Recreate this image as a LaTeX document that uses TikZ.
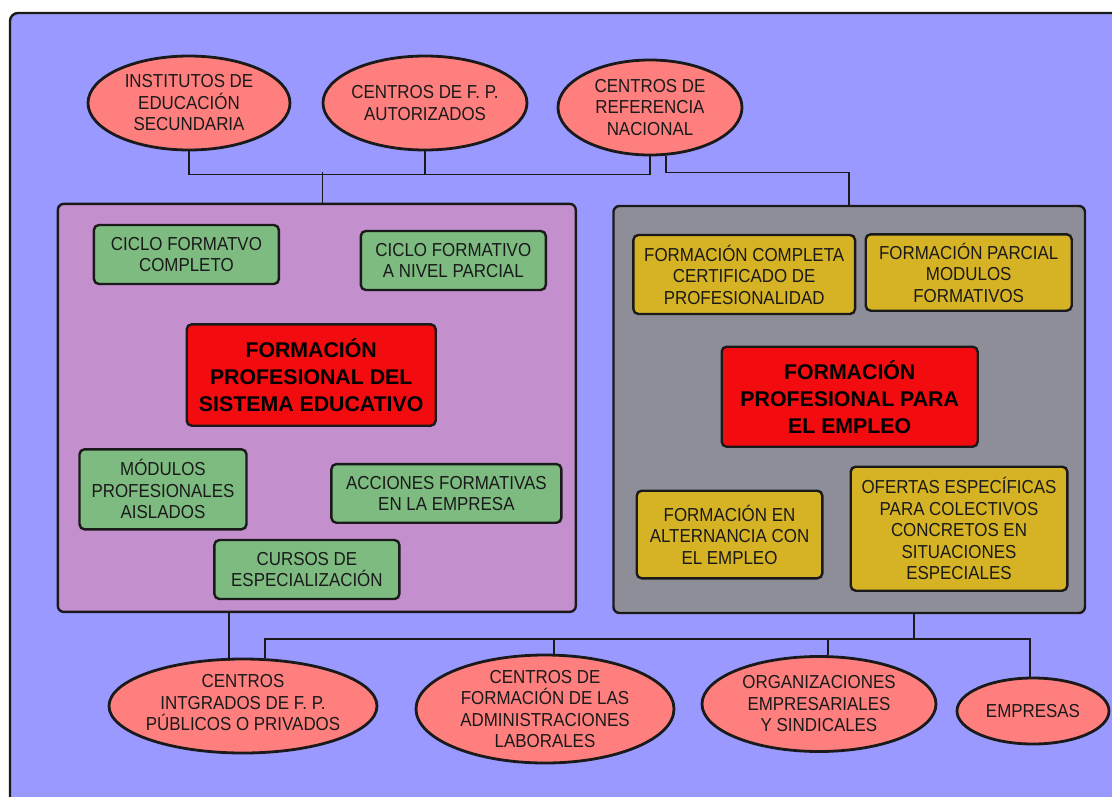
\documentclass[tikz,border=0pt]{standalone}
\usepackage{fontspec}
\setmainfont{Liberation Sans}[FakeStretch=0.9]
\newfontfamily\bfam{Liberation Sans}
\usetikzlibrary{shapes.geometric}
\definecolor{bgblue}{HTML}{9999FF}
\definecolor{purp}{HTML}{C38FCC}
\definecolor{greyb}{HTML}{8E8E98}
\definecolor{greenb}{HTML}{7DBB80}
\definecolor{yell}{HTML}{D6B324}
\definecolor{redb}{HTML}{F20C10}
\definecolor{pinke}{HTML}{FF7F7F}
\definecolor{ink}{HTML}{1A1A1A}
\begin{document}
\begin{tikzpicture}[x=1pt,y=-1pt,
  panel/.style={draw=ink, line width=2.4pt, rounded corners=6pt, inner sep=0pt},
  box/.style={draw=ink, line width=2.4pt, rounded corners=5pt, inner sep=0pt},
  gbox/.style={box, fill=greenb},
  ybox/.style={box, fill=yell},
  rbox/.style={box, fill=redb},
  oval/.style={ellipse, draw=ink, line width=2.8pt, fill=pinke, inner sep=0pt},
  txt/.style={align=center, text=ink, font=\fontsize{18.8}{21.5}\selectfont, inner sep=0pt},
  btxt/.style={align=center, text=black, font=\bfam\fontsize{21.3}{27}\selectfont\bfseries, inner sep=0pt},
  conn/.style={draw=ink, line width=1.8pt}]
\useasboundingbox (0,0) rectangle (1112,796);
\clip (0,0) rectangle (1112,796);
\draw[draw=ink, line width=2.4pt, fill=bgblue, rounded corners=8pt] (10,13) rectangle (1140,820);

% panels
\node[panel, fill=purp, minimum width=518pt, minimum height=408pt] (PL) at (316.8,407.9) {};
\node[panel, fill=greyb, minimum width=471.5pt, minimum height=407pt] (GR) at (849.2,409.5) {};

% top ellipses
\node[oval, minimum width=202pt, minimum height=94pt] (E1) at (189,103) {};
\node[oval, minimum width=204pt, minimum height=94pt] (E2) at (425,103) {};
\node[oval, minimum width=184pt, minimum height=95pt] (E3) at (650,107.5) {};
\node[txt] (E1t) at (E1) {INSTITUTOS DE\\EDUCACIÓN\\SECUNDARIA};
\node[txt] (E2t) at (E2) {CENTROS DE F. P.\\AUTORIZADOS};
\node[txt] (E3t) at (E3) {CENTROS DE\\REFERENCIA\\NACIONAL};

% bottom ellipses
\node[oval, minimum width=268pt, minimum height=94pt] (E4) at (243,706) {};
\node[oval, minimum width=258pt, minimum height=108pt] (E5) at (545,709) {};
\node[oval, minimum width=234pt, minimum height=95pt] (E6) at (819,704) {};
\node[oval, minimum width=152pt, minimum height=66pt] (E7) at (1033,711) {};
\node[txt] (E4t) at ([yshift=3pt]E4) {CENTROS\\INTGRADOS DE F. P.\\PÚBLICOS O PRIVADOS};
\node[txt] (E5t) at (E5) {CENTROS DE\\FORMACIÓN DE LAS\\ADMINISTRACIONES\\LABORALES};
\node[txt] (E6t) at (E6) {ORGANIZACIONES\\EMPRESARIALES\\Y SINDICALES};
\node[txt] (E7t) at (E7) {EMPRESAS};

% green boxes
\node[gbox, minimum width=185pt, minimum height=59pt] (g1) at (186.4,254.5) {};
\node[gbox, minimum width=185pt, minimum height=59pt] (g2) at (453.3,260.5) {};
\node[gbox, minimum width=167pt, minimum height=80pt] (g3) at (163,489.3) {};
\node[gbox, minimum width=230pt, minimum height=58.7pt] (g4) at (446.4,493.4) {};
\node[gbox, minimum width=185pt, minimum height=59pt] (g5) at (306.9,569.5) {};
\node[txt] (g1t) at (g1) {CICLO FORMATVO\\COMPLETO};
\node[txt] (g2t) at (g2) {CICLO FORMATIVO\\A NIVEL PARCIAL};
\node[txt] (g3t) at (g3) {MÓDULOS\\PROFESIONALES\\AISLADOS};
\node[txt] (g4t) at (g4) {ACCIONES FORMATIVAS\\EN LA EMPRESA};
\node[txt] (g5t) at (g5) {CURSOS DE\\ESPECIALIZACIÓN};

% red boxes
\node[rbox, minimum width=249pt, minimum height=101.4pt] (rL) at (311.2,375) {};
\node[rbox, minimum width=256pt, minimum height=100pt] (rR) at (849.7,396.7) {};
\node[btxt] (rLt) at (rL) {FORMACIÓN\\PROFESIONAL DEL\\SISTEMA EDUCATIVO};
\node[btxt] (rRt) at (rR) {FORMACIÓN\\PROFESIONAL PARA\\EL EMPLEO};

% yellow boxes
\node[ybox, minimum width=221.7pt, minimum height=79pt] (y1) at (744.2,274.5) {};
\node[ybox, minimum width=206pt, minimum height=76.4pt] (y2) at (968.7,272.5) {};
\node[ybox, minimum width=185.6pt, minimum height=87.6pt] (y3) at (729.5,534.5) {};
\node[ybox, minimum width=216.6pt, minimum height=124pt] (y4) at (959,528.7) {};
\node[txt] (y1t) at (y1) {FORMACIÓN COMPLETA\\CERTIFICADO DE\\PROFESIONALIDAD};
\node[txt] (y2t) at (y2) {FORMACIÓN PARCIAL\\MODULOS\\FORMATIVOS};
\node[txt] (y3t) at (y3) {FORMACIÓN EN\\ALTERNANCIA CON\\EL EMPLEO};
\node[txt] (y4t) at (y4) {OFERTAS ESPECÍFICAS\\PARA COLECTIVOS\\CONCRETOS EN\\SITUACIONES\\ESPECIALES};

% top connectors
\draw[conn] (E1.south) -- ++(0,23) -| (E3.south);
\draw[conn] (E2.south) -- ++(0,23);
\draw[conn] ([xshift=5.7pt]PL.north) -- ++(0,-31);
\draw[conn] ([xshift=16pt]E3.south) -- ++(0,16) -| (GR.north);

% bottom connectors
\draw[conn] ([xshift=-88pt]PL.south) -- ++(0,48);
\coordinate (hj) at ([xshift=65pt]GR.south);
\draw[conn] (hj) -- ++(0,24.5) coordinate (hk);
\draw[conn] ([xshift=22pt]E4.north) |- (hk) -| ([xshift=-3pt]E7.north);
\draw[conn] ([xshift=9pt]E5.north) -- ([xshift=9pt]E5.north |- hk);
\draw[conn] ([xshift=9pt]E6.north) -- ([xshift=9pt]E6.north |- hk);
\end{tikzpicture}
\end{document}
